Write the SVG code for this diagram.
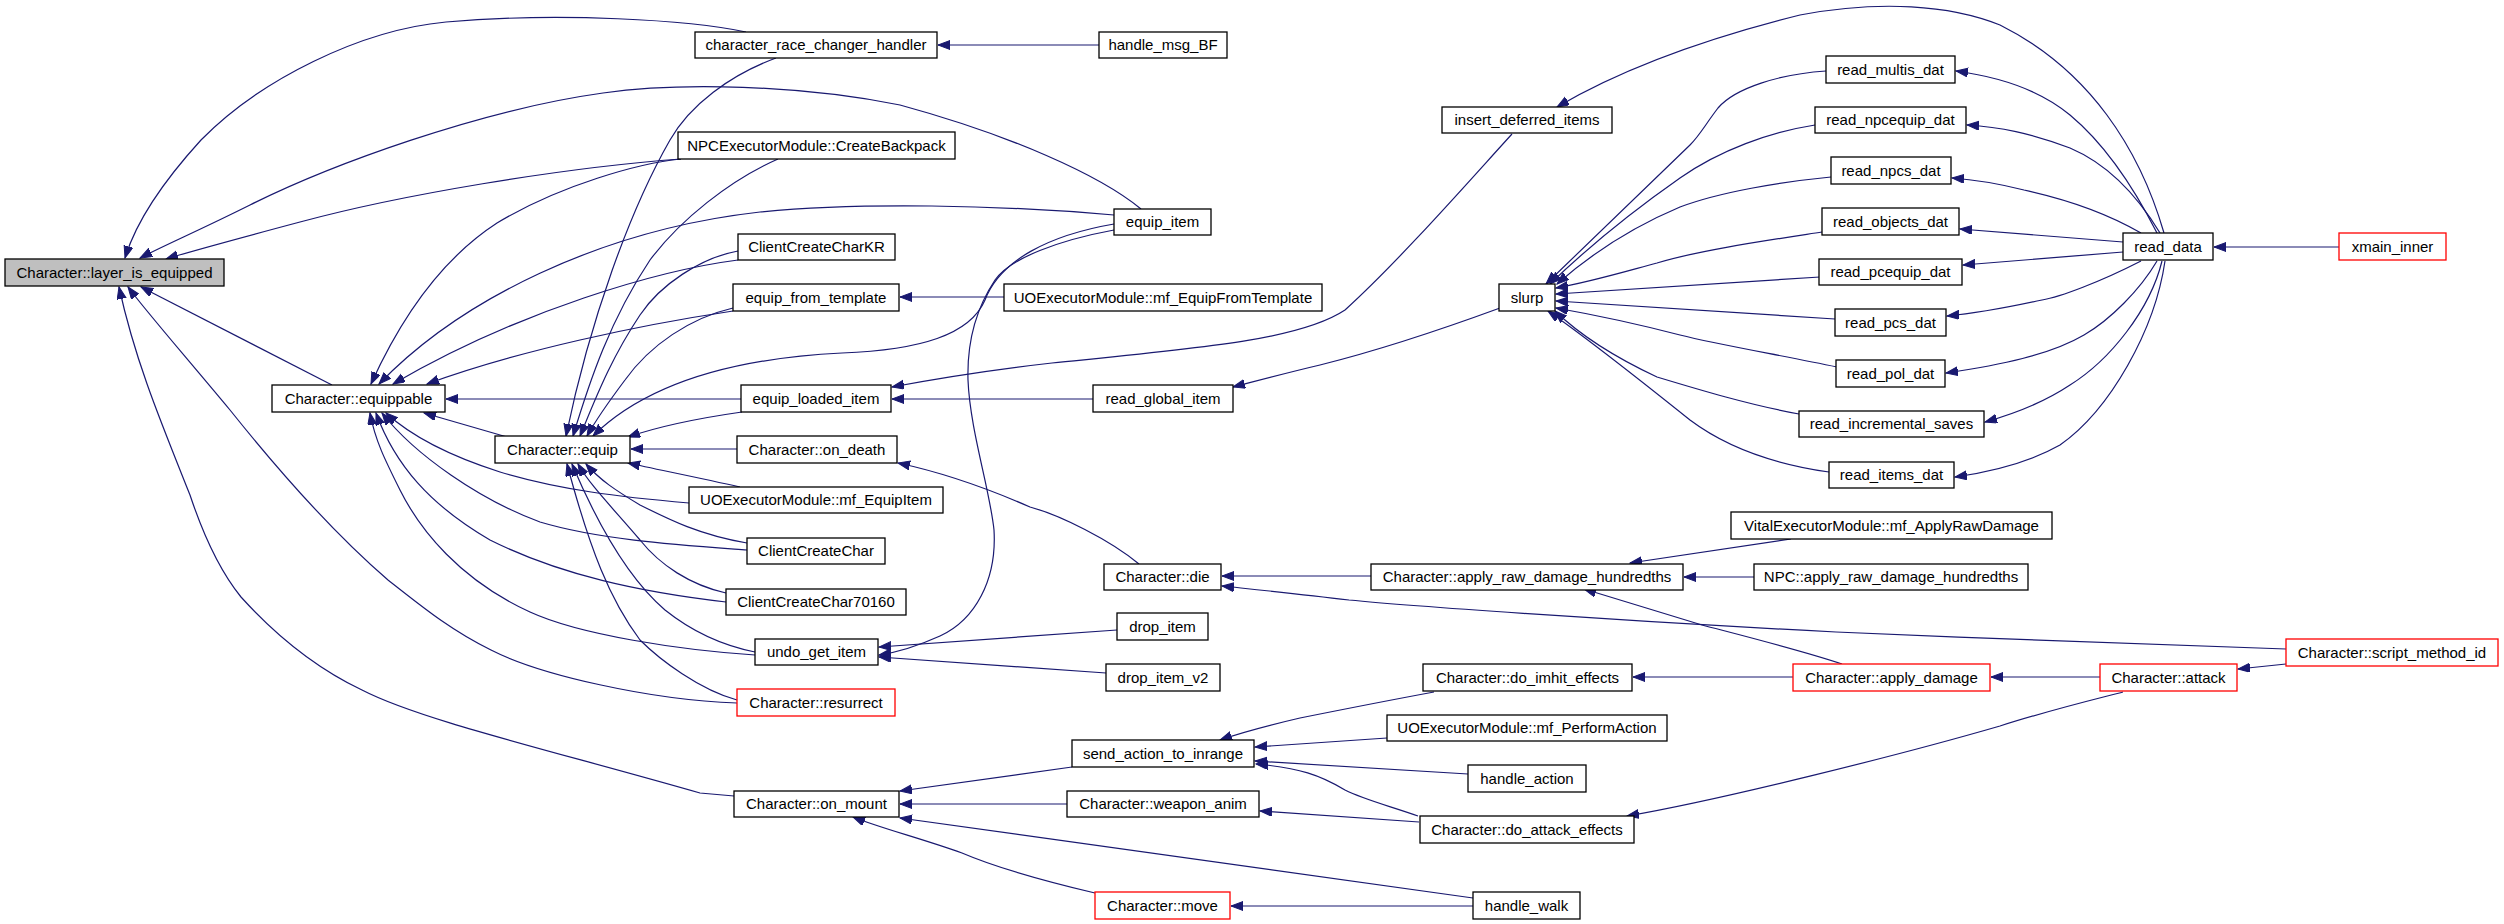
<svg xmlns="http://www.w3.org/2000/svg" width="2504" height="924" viewBox="0 0 2504 924">
<defs>
<marker id="ah" markerWidth="13" markerHeight="10" refX="12" refY="4.5" orient="auto" markerUnits="userSpaceOnUse"><path d="M0,0 L12,4.5 L0,9 z" fill="#191970" stroke="#191970" stroke-width="1"/></marker>
<style>
.n rect{fill:#ffffff;stroke:#000000;stroke-width:1.3}
.n.r rect{stroke:#ff0000}
.n.g rect{fill:#bfbfbf}
.n text{font-family:"Liberation Sans",Arial,sans-serif;font-size:15px;fill:#000000;text-anchor:middle}
#edges path{fill:none;stroke:#191970;stroke-width:1.2;marker-end:url(#ah)}
</style>
</defs>
<rect width="2504" height="924" fill="#ffffff"/>
<g id="edges">
<path d="M1099,45 L938,45"/>
<path d="M746,32 C690,20 560,12 446,22 C360,30 260,80 201,140 C160,185 135,225 125,258"/>
<path d="M1141,209 C1100,175 1010,135 900,105 C800,85 680,82 603,93 C480,110 330,165 250,205 C200,230 165,245 140,258"/>
<path d="M681,159 C560,168 400,195 300,222 C240,238 195,250 166,259"/>
<path d="M332,385 L141,287"/>
<path d="M734,796 L700,793 C550,750 420,720 362,690 C320,670 280,640 241,597 C215,565 200,525 190,495 C160,420 135,360 119,287"/>
<path d="M737,703 C650,700 540,675 491,650 C450,630 420,605 388,580 C330,530 270,460 230,410 C180,350 145,310 128,287"/>
<path d="M507,437 L424,413"/>
<path d="M681,159 C640,163 560,185 497,223 C440,260 400,320 371,384"/>
<path d="M1114,215 C1000,205 860,202 760,212 C600,230 460,300 379,384"/>
<path d="M738,260 C660,270 520,310 393,384"/>
<path d="M733,311 C640,325 520,350 427,384"/>
<path d="M741,399 L446,399"/>
<path d="M689,503 C620,497 560,490 500,472 C450,456 410,435 386,413"/>
<path d="M747,550 C680,545 600,540 540,522 C480,500 415,455 382,413"/>
<path d="M726,602 C640,592 560,575 490,540 C430,505 395,465 376,413"/>
<path d="M755,655 C680,650 580,635 530,612 C460,580 420,530 400,490 C385,460 375,440 370,413"/>
<path d="M776,58 C730,75 690,105 670,140 C630,210 590,320 566,436"/>
<path d="M778,159 C730,180 680,220 650,260 C610,320 590,380 573,436"/>
<path d="M738,251 C700,258 660,285 640,315 C610,360 595,400 580,436"/>
<path d="M733,308 C690,318 650,345 625,380 C610,400 597,418 587,436"/>
<path d="M1114,224 C1050,235 1000,260 985,300 C970,335 920,350 842,353 C740,358 650,380 593,436"/>
<path d="M742,412 C700,418 660,426 628,437"/>
<path d="M737,449 L631,449"/>
<path d="M740,487 C700,478 660,470 628,463"/>
<path d="M747,543 C700,535 670,520 640,505 C615,490 600,480 586,464"/>
<path d="M726,593 C690,585 660,565 640,540 C610,505 590,485 578,464"/>
<path d="M755,652 C720,645 690,630 665,610 C630,580 600,530 572,464"/>
<path d="M737,700 C700,690 660,660 640,640 C610,600 590,550 567,464"/>
<path d="M1004,297 L900,297"/>
<path d="M1093,399 L892,399"/>
<path d="M1512,134 C1470,180 1400,260 1345,310 C1300,340 1200,348 1052,363 C990,370 940,378 892,387"/>
<path d="M1500,308 C1440,330 1380,350 1320,365 C1290,372 1260,380 1233,387"/>
<path d="M2164,233 C2140,150 2090,70 2000,25 C1950,5 1880,0 1800,15 C1700,40 1620,70 1557,107"/>
<path d="M2157,233 C2130,180 2100,140 2070,115 C2040,90 2000,77 1956,71"/>
<path d="M2160,233 C2140,200 2110,165 2070,148 C2030,133 2000,127 1967,125"/>
<path d="M2141,233 C2110,215 2070,200 2024,190 C2000,184 1980,180 1952,178"/>
<path d="M2123,242 L1960,229"/>
<path d="M2123,252 L1963,265"/>
<path d="M2141,261 C2100,282 2060,297 2042,300 C2010,307 1980,313 1947,316"/>
<path d="M2157,261 C2140,290 2110,320 2084,335 C2050,355 2000,365 1946,373"/>
<path d="M2162,261 C2150,310 2110,360 2070,385 C2040,405 2010,415 1985,422"/>
<path d="M2165,261 C2155,330 2110,410 2060,445 C2030,462 1990,472 1955,477"/>
<path d="M2339,247 L2214,247"/>
<path d="M1826,71 C1780,74 1735,88 1718,108 C1705,125 1700,135 1690,145 L1546,284"/>
<path d="M1815,125 C1770,132 1720,150 1680,178 C1620,220 1580,255 1550,284"/>
<path d="M1831,177 C1780,182 1720,192 1680,207 C1630,228 1590,255 1557,284"/>
<path d="M1822,232 C1770,240 1700,250 1657,263 C1620,273 1590,282 1556,288"/>
<path d="M1820,277 L1556,294"/>
<path d="M1835,319 L1556,301"/>
<path d="M1837,367 C1780,355 1720,345 1680,335 C1630,322 1590,314 1556,308"/>
<path d="M1799,414 C1750,405 1700,390 1657,377 C1610,355 1580,335 1555,311"/>
<path d="M1829,472 C1780,465 1730,450 1690,420 C1640,380 1590,340 1548,311"/>
<path d="M1139,564 C1110,540 1060,515 1030,507 C980,485 940,472 898,463"/>
<path d="M1371,576 L1222,576"/>
<path d="M2286,649 C2200,647 2000,639 1836,632 C1600,620 1400,605 1349,600 C1300,594 1260,590 1222,586"/>
<path d="M1791,539 L1630,563"/>
<path d="M1754,577 L1684,577"/>
<path d="M1842,664 C1800,650 1740,635 1702,625 C1660,612 1620,600 1584,589"/>
<path d="M2100,677 L1991,677"/>
<path d="M2286,664 L2238,669"/>
<path d="M1793,677 L1633,677"/>
<path d="M2123,692 C2100,698 2050,710 2000,726 C1900,755 1720,800 1627,816"/>
<path d="M1434,692 C1380,702 1330,712 1300,718 C1270,725 1240,733 1220,740"/>
<path d="M1387,738 L1255,747"/>
<path d="M1468,774 L1255,761"/>
<path d="M1418,816 C1390,806 1365,800 1345,790 C1320,775 1300,768 1256,764"/>
<path d="M1072,767 L900,791"/>
<path d="M1067,804 L900,804"/>
<path d="M1473,898 L900,818"/>
<path d="M1095,893 C1040,880 990,865 962,853 C920,838 880,828 853,817"/>
<path d="M1419,822 L1260,811"/>
<path d="M1473,906 L1231,906"/>
<path d="M1117,630 L879,647"/>
<path d="M1106,673 L879,657"/>
<path d="M1114,230 C1060,240 1010,258 995,280 C975,310 967,345 968,380 C970,430 990,490 994,530 C997,580 975,620 940,636 C920,645 900,652 879,655"/>
</g>
<g id="n_layer_is_equipped" class="n g"><rect x="5" y="259" width="219" height="27"/><text x="114.5" y="278">Character::layer_is_equipped</text></g>
<g id="n_equippable" class="n"><rect x="272" y="385" width="173" height="27"/><text x="358.5" y="404">Character::equippable</text></g>
<g id="n_equip" class="n"><rect x="495" y="436" width="135" height="27"/><text x="562.5" y="455">Character::equip</text></g>
<g id="n_crch" class="n"><rect x="695" y="32" width="242" height="26"/><text x="816" y="50">character_race_changer_handler</text></g>
<g id="n_handle_msg_BF" class="n"><rect x="1099" y="32" width="128" height="26"/><text x="1163" y="50">handle_msg_BF</text></g>
<g id="n_CreateBackpack" class="n"><rect x="678" y="132" width="277" height="27"/><text x="816.5" y="151">NPCExecutorModule::CreateBackpack</text></g>
<g id="n_equip_item" class="n"><rect x="1114" y="209" width="97" height="26"/><text x="1162.5" y="227">equip_item</text></g>
<g id="n_ClientCreateCharKR" class="n"><rect x="738" y="234" width="157" height="26"/><text x="816.5" y="252">ClientCreateCharKR</text></g>
<g id="n_equip_from_template" class="n"><rect x="733" y="284" width="166" height="27"/><text x="816" y="303">equip_from_template</text></g>
<g id="n_mf_EquipFromTemplate" class="n"><rect x="1004" y="284" width="318" height="27"/><text x="1163" y="303">UOExecutorModule::mf_EquipFromTemplate</text></g>
<g id="n_equip_loaded_item" class="n"><rect x="741" y="385" width="150" height="27"/><text x="816" y="404">equip_loaded_item</text></g>
<g id="n_read_global_item" class="n"><rect x="1093" y="385" width="140" height="27"/><text x="1163" y="404">read_global_item</text></g>
<g id="n_on_death" class="n"><rect x="737" y="436" width="160" height="27"/><text x="817" y="455">Character::on_death</text></g>
<g id="n_mf_EquipItem" class="n"><rect x="689" y="487" width="254" height="26"/><text x="816" y="505">UOExecutorModule::mf_EquipItem</text></g>
<g id="n_ClientCreateChar" class="n"><rect x="747" y="538" width="138" height="26"/><text x="816" y="556">ClientCreateChar</text></g>
<g id="n_ClientCreateChar70160" class="n"><rect x="726" y="589" width="180" height="26"/><text x="816" y="607">ClientCreateChar70160</text></g>
<g id="n_die" class="n"><rect x="1104" y="564" width="117" height="26"/><text x="1162.5" y="582">Character::die</text></g>
<g id="n_drop_item" class="n"><rect x="1117" y="613" width="91" height="27"/><text x="1162.5" y="632">drop_item</text></g>
<g id="n_undo_get_item" class="n"><rect x="755" y="639" width="123" height="26"/><text x="816.5" y="657">undo_get_item</text></g>
<g id="n_drop_item_v2" class="n"><rect x="1106" y="664" width="114" height="27"/><text x="1163" y="683">drop_item_v2</text></g>
<g id="n_resurrect" class="n r"><rect x="737" y="689" width="158" height="27"/><text x="816" y="708">Character::resurrect</text></g>
<g id="n_send_action_to_inrange" class="n"><rect x="1072" y="740" width="182" height="27"/><text x="1163" y="759">send_action_to_inrange</text></g>
<g id="n_on_mount" class="n"><rect x="734" y="791" width="165" height="26"/><text x="816.5" y="809">Character::on_mount</text></g>
<g id="n_weapon_anim" class="n"><rect x="1067" y="791" width="192" height="26"/><text x="1163" y="809">Character::weapon_anim</text></g>
<g id="n_move" class="n r"><rect x="1095" y="892" width="135" height="27"/><text x="1162.5" y="911">Character::move</text></g>
<g id="n_insert_deferred_items" class="n"><rect x="1442" y="107" width="170" height="26"/><text x="1527" y="125">insert_deferred_items</text></g>
<g id="n_read_multis_dat" class="n"><rect x="1826" y="56" width="129" height="27"/><text x="1890.5" y="75">read_multis_dat</text></g>
<g id="n_read_npcequip_dat" class="n"><rect x="1815" y="107" width="151" height="26"/><text x="1890.5" y="125">read_npcequip_dat</text></g>
<g id="n_read_npcs_dat" class="n"><rect x="1831" y="157" width="120" height="27"/><text x="1891" y="176">read_npcs_dat</text></g>
<g id="n_read_objects_dat" class="n"><rect x="1822" y="208" width="137" height="27"/><text x="1890.5" y="227">read_objects_dat</text></g>
<g id="n_read_pcequip_dat" class="n"><rect x="1819" y="259" width="143" height="26"/><text x="1890.5" y="277">read_pcequip_dat</text></g>
<g id="n_slurp" class="n"><rect x="1499" y="284" width="56" height="27"/><text x="1527" y="303">slurp</text></g>
<g id="n_read_pcs_dat" class="n"><rect x="1835" y="309" width="111" height="27"/><text x="1890.5" y="328">read_pcs_dat</text></g>
<g id="n_read_pol_dat" class="n"><rect x="1836" y="360" width="109" height="27"/><text x="1890.5" y="379">read_pol_dat</text></g>
<g id="n_read_incremental_saves" class="n"><rect x="1799" y="411" width="185" height="26"/><text x="1891.5" y="429">read_incremental_saves</text></g>
<g id="n_read_items_dat" class="n"><rect x="1829" y="462" width="125" height="26"/><text x="1891.5" y="480">read_items_dat</text></g>
<g id="n_mf_ApplyRawDamage" class="n"><rect x="1731" y="512" width="321" height="27"/><text x="1891.5" y="531">VitalExecutorModule::mf_ApplyRawDamage</text></g>
<g id="n_apply_raw_damage_hundredths" class="n"><rect x="1371" y="564" width="312" height="26"/><text x="1527" y="582">Character::apply_raw_damage_hundredths</text></g>
<g id="n_npc_apply_raw_damage_hundredths" class="n"><rect x="1754" y="564" width="274" height="26"/><text x="1891" y="582">NPC::apply_raw_damage_hundredths</text></g>
<g id="n_do_imhit_effects" class="n"><rect x="1423" y="664" width="209" height="27"/><text x="1527.5" y="683">Character::do_imhit_effects</text></g>
<g id="n_apply_damage" class="n r"><rect x="1793" y="664" width="197" height="27"/><text x="1891.5" y="683">Character::apply_damage</text></g>
<g id="n_mf_PerformAction" class="n"><rect x="1387" y="715" width="280" height="26"/><text x="1527" y="733">UOExecutorModule::mf_PerformAction</text></g>
<g id="n_handle_action" class="n"><rect x="1468" y="765" width="118" height="27"/><text x="1527" y="784">handle_action</text></g>
<g id="n_do_attack_effects" class="n"><rect x="1420" y="816" width="214" height="27"/><text x="1527" y="835">Character::do_attack_effects</text></g>
<g id="n_handle_walk" class="n"><rect x="1473" y="892" width="107" height="27"/><text x="1526.5" y="911">handle_walk</text></g>
<g id="n_read_data" class="n"><rect x="2123" y="233" width="90" height="27"/><text x="2168" y="252">read_data</text></g>
<g id="n_xmain_inner" class="n r"><rect x="2339" y="233" width="107" height="27"/><text x="2392.5" y="252">xmain_inner</text></g>
<g id="n_script_method_id" class="n r"><rect x="2286" y="639" width="212" height="27"/><text x="2392" y="658">Character::script_method_id</text></g>
<g id="n_attack" class="n r"><rect x="2100" y="664" width="137" height="27"/><text x="2168.5" y="683">Character::attack</text></g>
</svg>
